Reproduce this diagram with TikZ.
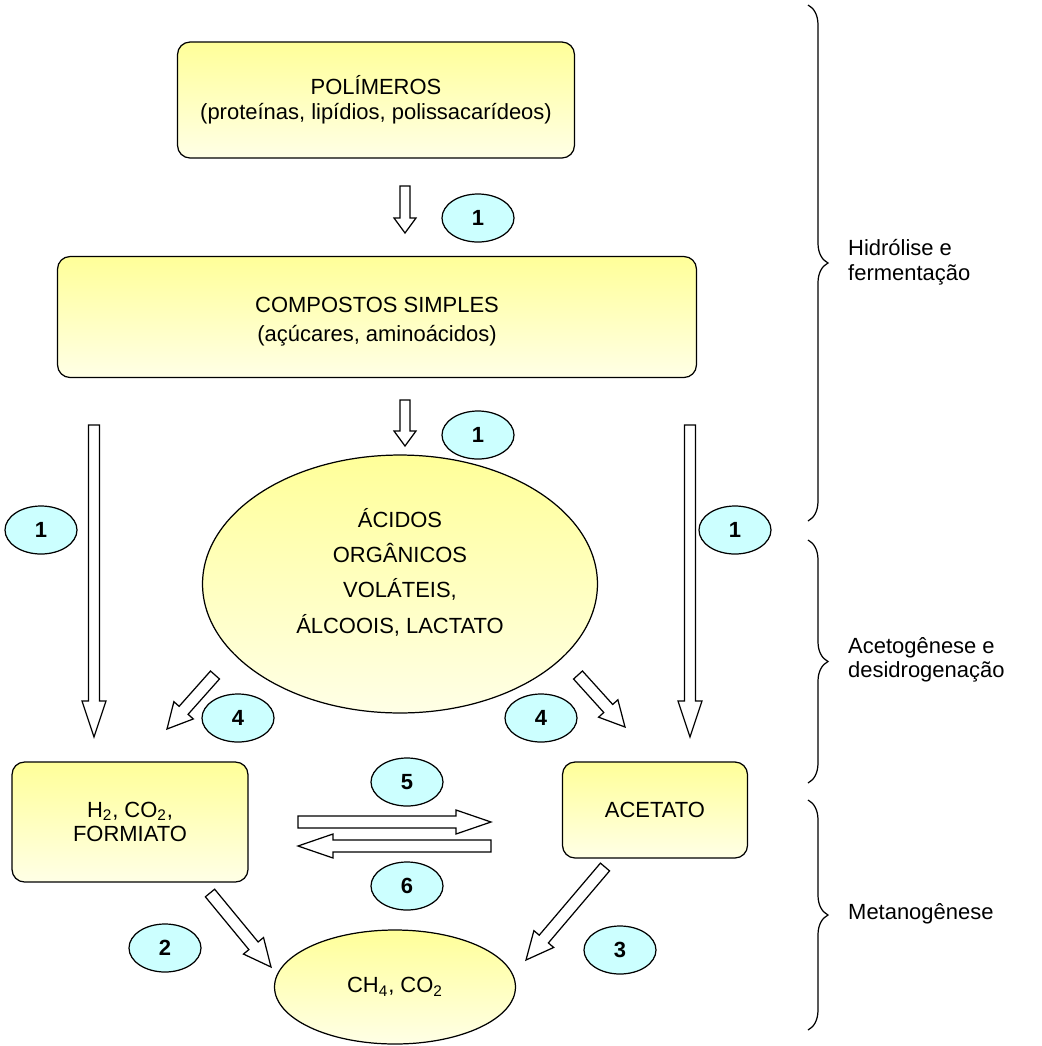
\documentclass[tikz,border=0pt]{standalone}
\usepackage{fontspec}
\setmainfont{Liberation Sans}
\usepackage{xcolor}
\usepackage{tikz}
\definecolor{boxtop}{RGB}{255, 255, 153}
\definecolor{boxbottom}{RGB}{255, 255, 230}
\definecolor{stepcolor}{RGB}{204, 255, 255}
\usetikzlibrary{shapes.geometric, positioning, calc, decorations.pathreplacing}

% hollow block arrow: start, end, half shaft, half head, head length
\newcommand{\hollowarrow}[5]{%
  \coordinate (hb) at ($(#2)!#5!(#1)$);
  \draw[hollow] ($(#1)!#3!90:(#2)$) -- ($(hb)!#3!90:(#2)$) -- ($(hb)!#4!90:(#2)$)
    -- (#2) -- ($(hb)!#4!-90:(#2)$) -- ($(hb)!#3!-90:(#2)$) -- ($(#1)!#3!-90:(#2)$) -- cycle;
}

\begin{document}
\begin{tikzpicture}[
    x=0.02cm, y=-0.02cm,
    box/.style={rectangle, draw, line width=0.7pt, rounded corners=0.25cm, top color=boxtop, bottom color=boxbottom, align=center, font=\fontsize{12.5}{14}\selectfont},
    blob/.style={ellipse, draw, line width=0.7pt, inner sep=0pt, top color=boxtop, bottom color=boxbottom, align=center},
    badge/.style={ellipse, draw, line width=0.7pt, fill=stepcolor, minimum width=1.44cm, minimum height=0.96cm, inner sep=0pt, font=\fontsize{12.5}{14}\selectfont\bfseries},
    hollow/.style={draw, line width=0.7pt, fill=white, line join=miter},
    phase/.style={decorate, decoration={brace, amplitude=0.4cm}, line width=0.7pt},
    phaselabel/.style={anchor=west, align=left, font=\fontsize{12.5}{14}\selectfont}
]
    \useasboundingbox (0,0) rectangle (1042,1046);

    % Substrates
    \node[box, minimum width=7.94cm, minimum height=2.32cm] (polymers) at (376,100) {POLÍMEROS\\(proteínas, lipídios, polissacarídeos)};
    \node[box, minimum width=12.78cm, minimum height=2.42cm, font=\fontsize{12.5}{16}\selectfont] (simple) at (377,317) {\rule{0pt}{14pt}COMPOSTOS SIMPLES\\(açúcares, aminoácidos)};
    \node[blob, minimum width=7.9cm, minimum height=5.16cm, font=\fontsize{12.5}{20}\selectfont] (acids) at (400,584) {ÁCIDOS\\ORGÂNICOS\\VOLÁTEIS,\\ÁLCOOIS, LACTATO\rule[-15pt]{0pt}{15pt}};

    % Products
    \node[box, minimum width=4.72cm, minimum height=2.4cm] (hydrogen) at (130,822) {H\textsubscript{2}, CO\textsubscript{2},\\FORMIATO};
    \node[box, minimum width=3.7cm, minimum height=1.92cm] (acetate) at (655,810) {ACETATO};
    \node[blob, minimum width=4.82cm, minimum height=2.28cm, font=\fontsize{12.5}{14}\selectfont] (methane) at (395,987) {CH\textsubscript{4}, CO\textsubscript{2}};

    % Arrow ends
    \coordinate (p1s) at (405,186);  \coordinate (p1e) at (405,233);
    \coordinate (p2s) at (405,400);  \coordinate (p2e) at (405,446);
    \coordinate (ls) at (94,425);    \coordinate (le) at (94,737);
    \coordinate (rs) at (690,425);   \coordinate (re) at (690,737);
    \coordinate (a4ls) at (215,675); \coordinate (a4le) at (167,729);
    \coordinate (a4rs) at (578,675); \coordinate (a4re) at (625,727);
    \coordinate (a5s) at (298,822);  \coordinate (a5e) at (491,822);
    \coordinate (a6s) at (491,846);  \coordinate (a6e) at (298,846);
    \coordinate (a2s) at (210,893);  \coordinate (a2e) at (271,967);
    \coordinate (a3s) at (605,867);  \coordinate (a3e) at (526,960);

    \hollowarrow{p1s}{p1e}{0.1cm}{0.22cm}{0.3cm}
    \hollowarrow{p2s}{p2e}{0.1cm}{0.22cm}{0.3cm}
    \hollowarrow{ls}{le}{0.11cm}{0.24cm}{0.72cm}
    \hollowarrow{rs}{re}{0.11cm}{0.24cm}{0.72cm}
    \hollowarrow{a4ls}{a4le}{0.12cm}{0.26cm}{0.5cm}
    \hollowarrow{a4rs}{a4re}{0.12cm}{0.26cm}{0.5cm}
    \hollowarrow{a5s}{a5e}{0.12cm}{0.24cm}{0.7cm}
    \hollowarrow{a6s}{a6e}{0.12cm}{0.24cm}{0.7cm}
    \hollowarrow{a2s}{a2e}{0.12cm}{0.26cm}{0.55cm}
    \hollowarrow{a3s}{a3e}{0.12cm}{0.26cm}{0.55cm}

    % Steps
    \node[badge] (s1a) at (478,218) {1};
    \node[badge] (s1b) at (478,435) {1};
    \node[badge] (s1c) at (41,530) {1};
    \node[badge] (s1d) at (735,530) {1};
    \node[badge] (s4a) at (238,718) {4};
    \node[badge] (s4b) at (541,718) {4};
    \node[badge] (s5) at (407,782) {5};
    \node[badge] (s6) at (407,886) {6};
    \node[badge] (s2) at (165,948) {2};
    \node[badge] (s3) at (620,950) {3};

    % Phases
    \coordinate (b1t) at (808,5);   \coordinate (b1b) at (808,521);
    \coordinate (b2t) at (808,540); \coordinate (b2b) at (808,783);
    \coordinate (b3t) at (808,800); \coordinate (b3b) at (808,1030);
    \draw[phase] (b1t) -- (b1b);
    \draw[phase] (b2t) -- (b2b);
    \draw[phase] (b3t) -- (b3b);
    \node[phaselabel] (hydrolysis) at (842,262) {Hidrólise e\\fermentação};
    \node[phaselabel] (acetogenesis) at (842,660) {Acetogênese e\\desidrogenação};
    \node[phaselabel] (methanogenesis) at (842,914) {Metanogênese};
\end{tikzpicture}
\end{document}
